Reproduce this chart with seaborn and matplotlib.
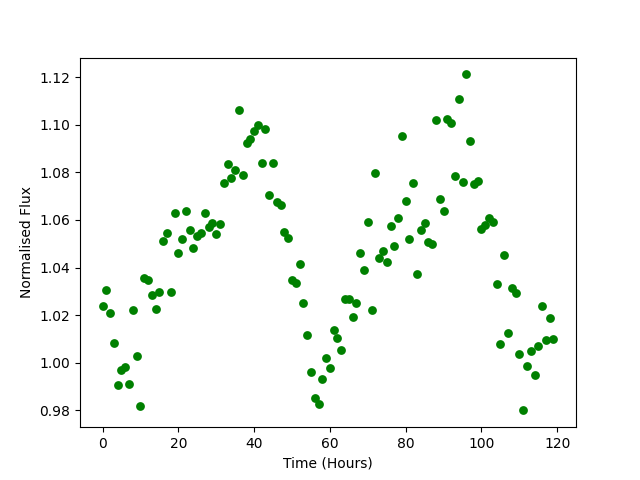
import matplotlib
matplotlib.use("Agg")
import matplotlib.pyplot as plt
import seaborn as sns
import pandas as pd

hours = list(range(120))
flux = [
    1.0237, 1.0305, 1.0207, 1.0085, 0.9905, 0.9968, 0.9982, 0.9909, 1.0220, 1.0027,
    0.9817, 1.0358, 1.0347, 1.0286, 1.0225, 1.0296, 1.0511, 1.0547, 1.0296, 1.0627,
    1.0463, 1.0519, 1.0637, 1.0557, 1.0484, 1.0532, 1.0547, 1.0631, 1.0571, 1.0587,
    1.0540, 1.0582, 1.0757, 1.0834, 1.0774, 1.0809, 1.1061, 1.0788, 1.0921, 1.0938,
    1.0973, 1.0998, 1.0837, 1.0980, 1.0704, 1.0841, 1.0677, 1.0663, 1.0550, 1.0522,
    1.0347, 1.0333, 1.0414, 1.0249, 1.0115, 0.9961, 0.9853, 0.9828, 0.9933, 1.0020,
    0.9976, 1.0136, 1.0106, 1.0055, 1.0266, 1.0266, 1.0192, 1.0253, 1.0459, 1.0389,
    1.0592, 1.0220, 1.0799, 1.0438, 1.0471, 1.0422, 1.0574, 1.0491, 1.0607, 1.0952,
    1.0679, 1.0518, 1.0753, 1.0371, 1.0557, 1.0589, 1.0508, 1.0497, 1.1019, 1.0689,
    1.0638, 1.1022, 1.1005, 1.0784, 1.1106, 1.0760, 1.1211, 1.0931, 1.0750, 1.0763,
    1.0563, 1.0578, 1.0607, 1.0592, 1.0329, 1.0080, 1.0452, 1.0127, 1.0314, 1.0295,
    1.0038, 0.9800, 0.9985, 1.0049, 0.9947, 1.0069, 1.0239, 1.0097, 1.0190, 1.0101,
]

df = pd.DataFrame({"Time (Hours)": hours, "Normalised Flux": flux})

fig, ax = plt.subplots(figsize=(6.4, 4.8), dpi=100)
sns.scatterplot(data=df, x="Time (Hours)", y="Normalised Flux", color="green",
                s=40, linewidth=0, ax=ax)
ax.set_xlabel("Time (Hours)")
ax.set_ylabel("Normalised Flux")
fig.savefig("out.png", dpi=100)
